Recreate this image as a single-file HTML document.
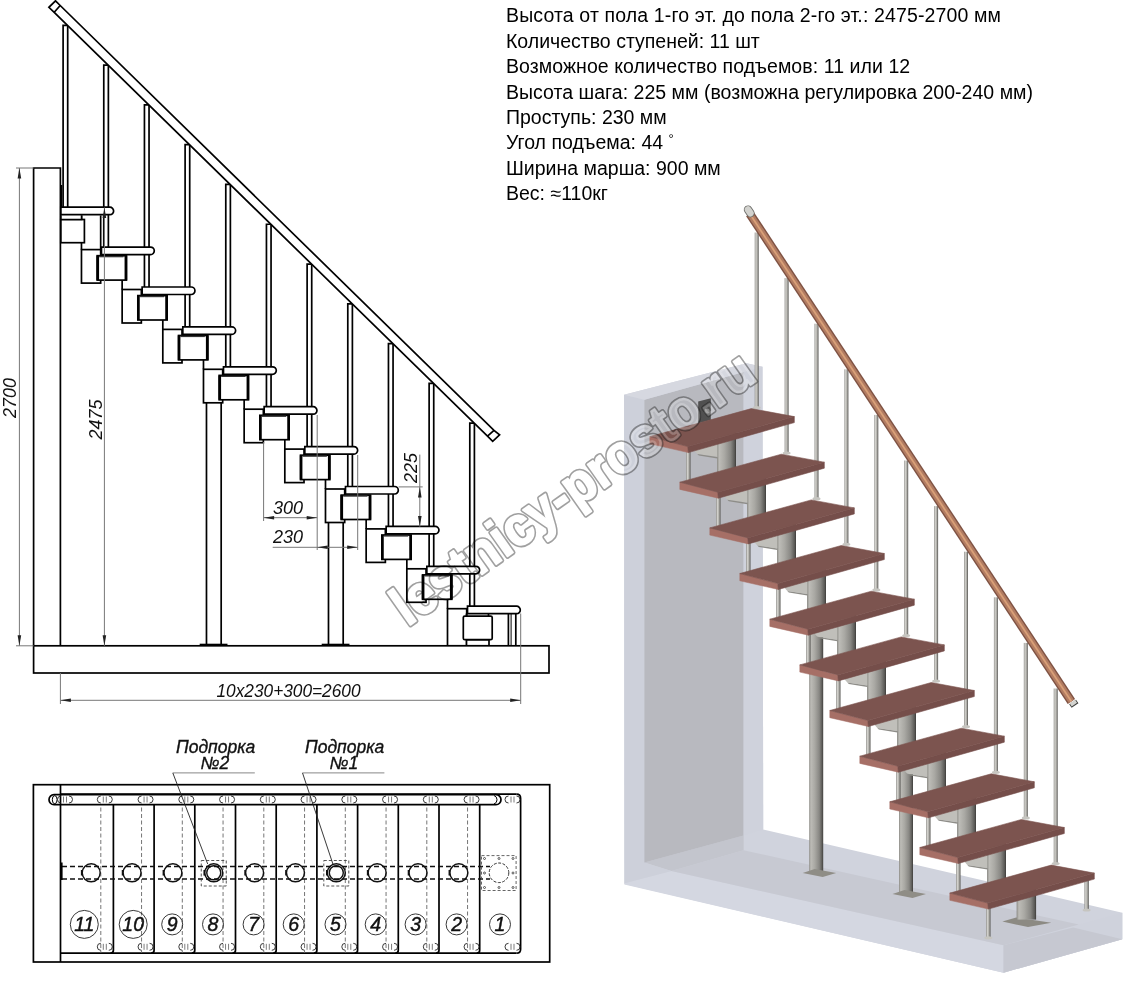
<!DOCTYPE html>
<html><head><meta charset="utf-8"><style>
html,body{margin:0;padding:0;background:#fff;width:1144px;height:983px;overflow:hidden}
svg{display:block}
.s{stroke:#000;stroke-width:1.7;fill:none}
.w{stroke:#000;stroke-width:1.7;fill:#fff}
.t{stroke:#000;stroke-width:2.6}
.d{stroke:#777;stroke-width:1;fill:none}
.dt{font-family:"Liberation Sans",sans-serif;font-style:italic;font-size:18px;fill:#111}
.nt{font-family:"Liberation Sans",sans-serif;font-style:italic;font-size:19.5px;fill:#111;stroke:#111;stroke-width:0.45}
.lt{font-family:"Liberation Sans",sans-serif;font-style:italic;font-size:17.5px;fill:#111;stroke:#111;stroke-width:0.35}
.info{font-family:"Liberation Sans",sans-serif;font-size:19.5px;fill:#000}
.deg{font-size:13px}
.wm{font-family:"Liberation Sans",sans-serif;font-weight:bold;font-size:55px;fill:#000}
</style></head><body>
<svg width="1144" height="983" viewBox="0 0 1144 983">
<rect width="1144" height="983" fill="#fff"/>
<text x="506" y="22.3" class="info" textLength="495" lengthAdjust="spacing">Высота от пола 1-го эт. до пола 2-го эт.: 2475-2700 мм</text>
<text x="506" y="47.7" class="info">Количество ступеней: 11 шт</text>
<text x="506" y="73.1" class="info" textLength="404.2" lengthAdjust="spacing">Возможное количество подъемов: 11 или 12</text>
<text x="506" y="98.5" class="info" textLength="527" lengthAdjust="spacing">Высота шага: 225 мм (возможна регулировка 200-240 мм)</text>
<text x="506" y="123.9" class="info">Проступь: 230 мм</text>
<text x="506" y="149.3" class="info">Угол подъема: 44 <tspan class="deg" dy="-6">°</tspan></text>
<text x="506" y="174.7" class="info">Ширина марша: 900 мм</text>
<text x="506" y="200.1" class="info">Вес: ≈110кг</text>
<g><polygon points="624.1,394.8 746.5,363.3 762.5,366.8 763.2,829.4 1122.3,912.7 1122.3,939.2 1003.5,972.7 624.4,884" fill="#d0d3dd" />
<polygon points="624.4,883.2 671.4,871 1003.5,945.2 1003.5,972.7 624.4,884.5" fill="#d4d7e1" />
<polygon points="1003.5,945.2 1122.3,912.7 1122.3,939.2 1003.5,972.7" fill="#cfd2dc" />
<polygon points="1003.5,945.2 1073.2,927.5 1122.3,939.2 1003.5,972.7" fill="#c6c8d1" />
<polygon points="671.4,871 743.6,850.2 1078.8,924.6 1003.5,945.2" fill="#c7c9d2" />
<polygon points="644.4,862.4 743.6,835.5 743.6,850.2 671.4,871" fill="#c3c5cd" />
<polygon points="624.1,394.8 644.4,399.7 644.4,862.4 671.4,871 624.4,883.2" fill="#cdd0da" />
<polygon points="644.4,399.7 743.6,372 743.6,835.5 644.4,862.4" fill="#b8b9bf" />
<polygon points="743.6,372 762.5,366.8 763.2,829.4 743.6,835.5" fill="#cfd2dc" />
<polygon points="624.1,394.8 746.5,363.3 762.5,366.8 644.4,399.7" fill="#d6d8e0" />
<polygon points="698.2,401.5 710.8,398.3 710.8,420 698.2,423.4" fill="#505050" />
<circle cx="707" cy="411" r="2.6" fill="#8a8a8a"/>
<defs>
<linearGradient id="col" x1="0" x2="1" y1="0" y2="0">
<stop offset="0" stop-color="#8c8b86"/><stop offset="0.12" stop-color="#bdbcb7"/><stop offset="0.4" stop-color="#a9a8a3"/><stop offset="0.72" stop-color="#888783"/><stop offset="0.92" stop-color="#5b5a57"/><stop offset="1" stop-color="#3c3b39"/></linearGradient>
<linearGradient id="bal" x1="0" x2="1" y1="0" y2="0">
<stop offset="0" stop-color="#8e8d89"/><stop offset="0.3" stop-color="#d2d1cc"/><stop offset="0.65" stop-color="#adaca7"/><stop offset="1" stop-color="#52514e"/></linearGradient>
<linearGradient id="rail" x1="0" x2="1" y1="0" y2="0">
<stop offset="0" stop-color="#8f5e48"/><stop offset="0.45" stop-color="#d39a74"/><stop offset="1" stop-color="#9a6650"/></linearGradient>
</defs>
<rect x="809.2" y="630" width="14" height="242" fill="url(#col)"/><polygon points="802.7,873 814.7,869 836.2,873 822.7,877" fill="#8f8d86" />
<rect x="899" y="765" width="14" height="128" fill="url(#col)"/><polygon points="892.5,894 904.5,890 926,894 912.5,898" fill="#8f8d86" />
<rect x="754.7" y="232.5" width="4" height="175" fill="url(#bal)"/>
<ellipse cx="756.7" cy="407.5" rx="4" ry="1.6" fill="#c6c5c0"/>
<rect x="784.6" y="278.1" width="4" height="175" fill="url(#bal)"/>
<ellipse cx="786.6" cy="453.1" rx="4" ry="1.6" fill="#c6c5c0"/>
<rect x="814.5" y="323.7" width="4" height="175" fill="url(#bal)"/>
<ellipse cx="816.5" cy="498.7" rx="4" ry="1.6" fill="#c6c5c0"/>
<rect x="844.4" y="369.3" width="4" height="175" fill="url(#bal)"/>
<ellipse cx="846.4" cy="544.3" rx="4" ry="1.6" fill="#c6c5c0"/>
<rect x="874.3" y="414.9" width="4" height="175" fill="url(#bal)"/>
<ellipse cx="876.3" cy="589.9" rx="4" ry="1.6" fill="#c6c5c0"/>
<rect x="904.2" y="460.5" width="4" height="175" fill="url(#bal)"/>
<ellipse cx="906.2" cy="635.5" rx="4" ry="1.6" fill="#c6c5c0"/>
<rect x="934.1" y="506.1" width="4" height="175" fill="url(#bal)"/>
<ellipse cx="936.1" cy="681.1" rx="4" ry="1.6" fill="#c6c5c0"/>
<rect x="964" y="551.7" width="4" height="175" fill="url(#bal)"/>
<ellipse cx="966" cy="726.7" rx="4" ry="1.6" fill="#c6c5c0"/>
<rect x="993.9" y="597.3" width="4" height="175" fill="url(#bal)"/>
<ellipse cx="995.9" cy="772.3" rx="4" ry="1.6" fill="#c6c5c0"/>
<rect x="1023.8" y="642.9" width="4" height="175" fill="url(#bal)"/>
<ellipse cx="1025.8" cy="817.9" rx="4" ry="1.6" fill="#c6c5c0"/>
<rect x="1053.7" y="688.5" width="4" height="175" fill="url(#bal)"/>
<ellipse cx="1055.7" cy="863.5" rx="4" ry="1.6" fill="#c6c5c0"/>
<rect x="717" y="428.6" width="19" height="49.6" fill="url(#col)"/>
<polygon points="693.8,450.1 717.3,444.1 717.3,457.1 697.3,454.1" fill="#c0bfba" />
<polygon points="697.3,454.1 717.3,457.1 717.3,458.6 698.8,455.6" fill="#8e8d88" />
<rect x="686.1" y="448.6" width="4.4" height="35.6" fill="url(#bal)"/>
<ellipse cx="688.3" cy="483.8" rx="4" ry="1.6" fill="#c6c5c0"/>
<rect x="747" y="474.2" width="19" height="49.6" fill="url(#col)"/>
<polygon points="723.8,495.8 747.3,489.8 747.3,502.8 727.3,499.8" fill="#c0bfba" />
<polygon points="727.3,499.8 747.3,502.8 747.3,504.2 728.8,501.2" fill="#8e8d88" />
<rect x="716.1" y="494.2" width="4.4" height="35.6" fill="url(#bal)"/>
<ellipse cx="718.3" cy="529.4" rx="4" ry="1.6" fill="#c6c5c0"/>
<rect x="777" y="519.9" width="19" height="49.6" fill="url(#col)"/>
<polygon points="753.8,541.4 777.3,535.4 777.3,548.4 757.3,545.4" fill="#c0bfba" />
<polygon points="757.3,545.4 777.3,548.4 777.3,549.9 758.8,546.9" fill="#8e8d88" />
<rect x="746.1" y="539.9" width="4.4" height="35.6" fill="url(#bal)"/>
<ellipse cx="748.3" cy="575" rx="4" ry="1.6" fill="#c6c5c0"/>
<rect x="807" y="565.5" width="19" height="49.6" fill="url(#col)"/>
<polygon points="783.8,587 807.3,581 807.3,594 787.3,591" fill="#c0bfba" />
<polygon points="787.3,591 807.3,594 807.3,595.5 788.8,592.5" fill="#8e8d88" />
<rect x="776.1" y="585.5" width="4.4" height="35.6" fill="url(#bal)"/>
<ellipse cx="778.3" cy="620.7" rx="4" ry="1.6" fill="#c6c5c0"/>
<rect x="837" y="611.2" width="19" height="49.6" fill="url(#col)"/>
<polygon points="813.8,632.7 837.3,626.7 837.3,639.7 817.3,636.7" fill="#c0bfba" />
<polygon points="817.3,636.7 837.3,639.7 837.3,641.2 818.8,638.2" fill="#8e8d88" />
<rect x="806.1" y="631.2" width="4.4" height="35.6" fill="url(#bal)"/>
<ellipse cx="808.3" cy="666.4" rx="4" ry="1.6" fill="#c6c5c0"/>
<rect x="867" y="656.9" width="19" height="49.6" fill="url(#col)"/>
<polygon points="843.8,678.4 867.3,672.4 867.3,685.4 847.3,682.4" fill="#c0bfba" />
<polygon points="847.3,682.4 867.3,685.4 867.3,686.9 848.8,683.9" fill="#8e8d88" />
<rect x="836.1" y="676.9" width="4.4" height="35.6" fill="url(#bal)"/>
<ellipse cx="838.3" cy="712" rx="4" ry="1.6" fill="#c6c5c0"/>
<rect x="897" y="702.5" width="19" height="49.6" fill="url(#col)"/>
<polygon points="873.8,724 897.3,718 897.3,731 877.3,728" fill="#c0bfba" />
<polygon points="877.3,728 897.3,731 897.3,732.5 878.8,729.5" fill="#8e8d88" />
<rect x="866.1" y="722.5" width="4.4" height="35.6" fill="url(#bal)"/>
<ellipse cx="868.3" cy="757.6" rx="4" ry="1.6" fill="#c6c5c0"/>
<rect x="927" y="748.2" width="19" height="49.6" fill="url(#col)"/>
<polygon points="903.8,769.7 927.3,763.7 927.3,776.7 907.3,773.7" fill="#c0bfba" />
<polygon points="907.3,773.7 927.3,776.7 927.3,778.2 908.8,775.2" fill="#8e8d88" />
<rect x="896.1" y="768.2" width="4.4" height="35.6" fill="url(#bal)"/>
<ellipse cx="898.3" cy="803.3" rx="4" ry="1.6" fill="#c6c5c0"/>
<rect x="957" y="793.8" width="19" height="49.6" fill="url(#col)"/>
<polygon points="933.8,815.3 957.3,809.3 957.3,822.3 937.3,819.3" fill="#c0bfba" />
<polygon points="937.3,819.3 957.3,822.3 957.3,823.8 938.8,820.8" fill="#8e8d88" />
<rect x="926.1" y="813.8" width="4.4" height="35.6" fill="url(#bal)"/>
<ellipse cx="928.3" cy="848.9" rx="4" ry="1.6" fill="#c6c5c0"/>
<rect x="987" y="839.5" width="19" height="49.6" fill="url(#col)"/>
<polygon points="963.8,861 987.3,855 987.3,868 967.3,865" fill="#c0bfba" />
<polygon points="967.3,865 987.3,868 987.3,869.5 968.8,866.5" fill="#8e8d88" />
<rect x="956.1" y="859.5" width="4.4" height="35.6" fill="url(#bal)"/>
<ellipse cx="958.3" cy="894.6" rx="4" ry="1.6" fill="#c6c5c0"/>
<rect x="986.1" y="905.1" width="4.4" height="32.7" fill="url(#bal)"/>
<ellipse cx="988.3" cy="937.8" rx="4" ry="1.6" fill="#c6c5c0"/>
<rect x="1084.4" y="877.1" width="4.4" height="32.9" fill="url(#bal)"/>
<ellipse cx="1086.6" cy="910" rx="4" ry="1.6" fill="#c6c5c0"/>
<polygon points="1002.4,921.6 1016.2,917.4 1051.4,922.7 1028,927" fill="#8c8a83" />
<rect x="1016.6" y="885.1" width="19.5" height="34.5" fill="url(#col)"/>
<polygon points="649.8,436.6 687.8,446.6 688.3,452.6 649.8,443.8" fill="#a66f66" stroke="#a66f66" stroke-width="0.5"/>
<polygon points="687.8,446.6 794.3,416.6 794.3,422.6 688.3,452.6" fill="#754e4a" stroke="#754e4a" stroke-width="0.6"/>
<polygon points="649.8,436.6 751.3,408.6 794.3,416.6 687.8,446.6" fill="#7c544f" stroke="#7c544f" stroke-width="0.6"/>
<polygon points="679.8,482.2 717.8,492.2 718.3,498.2 679.8,489.4" fill="#a66f66" stroke="#a66f66" stroke-width="0.5"/>
<polygon points="717.8,492.2 824.3,462.2 824.3,468.2 718.3,498.2" fill="#754e4a" stroke="#754e4a" stroke-width="0.6"/>
<polygon points="679.8,482.2 781.3,454.2 824.3,462.2 717.8,492.2" fill="#7c544f" stroke="#7c544f" stroke-width="0.6"/>
<polygon points="709.8,527.9 747.8,537.9 748.3,543.9 709.8,535.1" fill="#a66f66" stroke="#a66f66" stroke-width="0.5"/>
<polygon points="747.8,537.9 854.3,507.9 854.3,513.9 748.3,543.9" fill="#754e4a" stroke="#754e4a" stroke-width="0.6"/>
<polygon points="709.8,527.9 811.3,499.9 854.3,507.9 747.8,537.9" fill="#7c544f" stroke="#7c544f" stroke-width="0.6"/>
<polygon points="739.8,573.5 777.8,583.5 778.3,589.5 739.8,580.8" fill="#a66f66" stroke="#a66f66" stroke-width="0.5"/>
<polygon points="777.8,583.5 884.3,553.5 884.3,559.5 778.3,589.5" fill="#754e4a" stroke="#754e4a" stroke-width="0.6"/>
<polygon points="739.8,573.5 841.3,545.5 884.3,553.5 777.8,583.5" fill="#7c544f" stroke="#7c544f" stroke-width="0.6"/>
<polygon points="769.8,619.2 807.8,629.2 808.3,635.2 769.8,626.4" fill="#a66f66" stroke="#a66f66" stroke-width="0.5"/>
<polygon points="807.8,629.2 914.3,599.2 914.3,605.2 808.3,635.2" fill="#754e4a" stroke="#754e4a" stroke-width="0.6"/>
<polygon points="769.8,619.2 871.3,591.2 914.3,599.2 807.8,629.2" fill="#7c544f" stroke="#7c544f" stroke-width="0.6"/>
<polygon points="799.8,664.9 837.8,674.9 838.3,680.9 799.8,672.1" fill="#a66f66" stroke="#a66f66" stroke-width="0.5"/>
<polygon points="837.8,674.9 944.3,644.9 944.3,650.9 838.3,680.9" fill="#754e4a" stroke="#754e4a" stroke-width="0.6"/>
<polygon points="799.8,664.9 901.3,636.9 944.3,644.9 837.8,674.9" fill="#7c544f" stroke="#7c544f" stroke-width="0.6"/>
<polygon points="829.8,710.5 867.8,720.5 868.3,726.5 829.8,717.7" fill="#a66f66" stroke="#a66f66" stroke-width="0.5"/>
<polygon points="867.8,720.5 974.3,690.5 974.3,696.5 868.3,726.5" fill="#754e4a" stroke="#754e4a" stroke-width="0.6"/>
<polygon points="829.8,710.5 931.3,682.5 974.3,690.5 867.8,720.5" fill="#7c544f" stroke="#7c544f" stroke-width="0.6"/>
<polygon points="859.8,756.2 897.8,766.2 898.3,772.2 859.8,763.4" fill="#a66f66" stroke="#a66f66" stroke-width="0.5"/>
<polygon points="897.8,766.2 1004.3,736.2 1004.3,742.2 898.3,772.2" fill="#754e4a" stroke="#754e4a" stroke-width="0.6"/>
<polygon points="859.8,756.2 961.3,728.2 1004.3,736.2 897.8,766.2" fill="#7c544f" stroke="#7c544f" stroke-width="0.6"/>
<polygon points="889.8,801.8 927.8,811.8 928.3,817.8 889.8,809" fill="#a66f66" stroke="#a66f66" stroke-width="0.5"/>
<polygon points="927.8,811.8 1034.3,781.8 1034.3,787.8 928.3,817.8" fill="#754e4a" stroke="#754e4a" stroke-width="0.6"/>
<polygon points="889.8,801.8 991.3,773.8 1034.3,781.8 927.8,811.8" fill="#7c544f" stroke="#7c544f" stroke-width="0.6"/>
<polygon points="919.8,847.5 957.8,857.5 958.3,863.5 919.8,854.7" fill="#a66f66" stroke="#a66f66" stroke-width="0.5"/>
<polygon points="957.8,857.5 1064.3,827.5 1064.3,833.5 958.3,863.5" fill="#754e4a" stroke="#754e4a" stroke-width="0.6"/>
<polygon points="919.8,847.5 1021.3,819.5 1064.3,827.5 957.8,857.5" fill="#7c544f" stroke="#7c544f" stroke-width="0.6"/>
<polygon points="949.8,893.1 987.8,903.1 988.3,909.1 949.8,900.3" fill="#a66f66" stroke="#a66f66" stroke-width="0.5"/>
<polygon points="987.8,903.1 1094.3,873.1 1094.3,879.1 988.3,909.1" fill="#754e4a" stroke="#754e4a" stroke-width="0.6"/>
<polygon points="949.8,893.1 1051.3,865.1 1094.3,873.1 987.8,903.1" fill="#7c544f" stroke="#7c544f" stroke-width="0.6"/>
<path d="M749.8 213.8L1071.4 701.5" stroke="#7e5243" stroke-width="8.8" stroke-linecap="butt"/>
<path d="M749.8 213.8L1071.4 701.5" stroke="#b27c62" stroke-width="6"/>
<path d="M749.8 213.8L1071.4 701.5" stroke="#d9a078" stroke-width="1.8"/>
<path d="M748 209.6L750.4 213.2" stroke="#6e6e6a" stroke-width="8.4" stroke-linecap="round"/>
<path d="M748 209.6L750.4 213.2" stroke="#d2d2ce" stroke-width="6.6" stroke-linecap="round"/>
<path d="M1072.6 701.9L1075 705.5" stroke="#3e3e3c" stroke-width="8.2" stroke-linecap="butt"/>
<path d="M1072.4 701.6L1074.4 704.6" stroke="#d4d4d0" stroke-width="6.4" stroke-linecap="butt"/></g>
<g><path d="M63.1 207.2V25.31H67.7V207.2" class="s"/>
<path d="M103.77 247.1V65.09H108.37V247.1" class="s"/>
<path d="M144.44 287V104.88H149.04V287" class="s"/>
<path d="M185.11 326.9V144.67H189.71V326.9" class="s"/>
<path d="M225.78 366.8V184.46H230.38V366.8" class="s"/>
<path d="M266.45 406.7V224.24H271.05V406.7" class="s"/>
<path d="M307.12 446.6V264.03H311.72V446.6" class="s"/>
<path d="M347.79 486.5V303.82H352.39V486.5" class="s"/>
<path d="M388.46 526.4V343.61H393.06V526.4" class="s"/>
<path d="M429.13 566.3V383.39H433.73V566.3" class="s"/>
<path d="M469.8 606.2V423.18H474.4V606.2" class="s"/>
<rect x="81.47" y="249.6" width="19.2" height="33.5" class="w"/>
<path d="M81.47 215.4V249.6" class="s"/>
<path d="M100.67 215.4V249.6" class="s"/>
<rect x="122.14" y="289.5" width="19.2" height="33.5" class="w"/>
<path d="M122.14 279.7V289.5" class="s"/>
<rect x="162.81" y="329.4" width="19.2" height="33.5" class="w"/>
<path d="M162.81 319.6V329.4" class="s"/>
<rect x="203.48" y="369.3" width="19.2" height="33.5" class="w"/>
<path d="M203.48 359.5V369.3" class="s"/>
<rect x="244.15" y="409.2" width="19.2" height="33.5" class="w"/>
<path d="M244.15 399.4V409.2" class="s"/>
<rect x="284.82" y="449.1" width="19.2" height="33.5" class="w"/>
<path d="M284.82 439.3V449.1" class="s"/>
<rect x="325.49" y="489" width="19.2" height="33.5" class="w"/>
<path d="M325.49 479.2V489" class="s"/>
<rect x="366.16" y="528.9" width="19.2" height="33.5" class="w"/>
<path d="M366.16 519.1V528.9" class="s"/>
<rect x="406.83" y="568.8" width="19.2" height="33.5" class="w"/>
<path d="M406.83 559V568.8" class="s"/>
<rect x="447.5" y="608.7" width="19.2" height="37.1" class="w"/>
<path d="M447.5 598.9V608.7" class="s"/>
<path d="M206.48 402.8V645.8M221.18 402.8V645.8" class="s"/>
<path d="M199.68 644.6H227.48" stroke="#000" stroke-width="1.8"/>
<path d="M328.49 522.5V645.8M343.19 522.5V645.8" class="s"/>
<path d="M321.69 644.6H349.49" stroke="#000" stroke-width="1.8"/>
<rect x="60.8" y="219.5" width="23.6" height="23.2" class="w"/>
<path d="M60.8 215.2V219.5H81.6V215.2" class="w"/>
<rect x="97.17" y="255.7" width="29.3" height="24.4" class="w"/>
<path d="M97.77 255.7V280.1M125.87 255.7V280.1" class="t"/>
<path d="M99.17 256.6H123.47" stroke="#333" stroke-width="1.4"/>
<rect x="137.84" y="295.6" width="29.3" height="24.4" class="w"/>
<path d="M138.44 295.6V320M166.54 295.6V320" class="t"/>
<path d="M139.84 296.5H164.14" stroke="#333" stroke-width="1.4"/>
<rect x="178.51" y="335.5" width="29.3" height="24.4" class="w"/>
<path d="M179.11 335.5V359.9M207.21 335.5V359.9" class="t"/>
<path d="M180.51 336.4H204.81" stroke="#333" stroke-width="1.4"/>
<rect x="219.18" y="375.4" width="29.3" height="24.4" class="w"/>
<path d="M219.78 375.4V399.8M247.88 375.4V399.8" class="t"/>
<path d="M221.18 376.3H245.48" stroke="#333" stroke-width="1.4"/>
<rect x="259.85" y="415.3" width="29.3" height="24.4" class="w"/>
<path d="M260.45 415.3V439.7M288.55 415.3V439.7" class="t"/>
<path d="M261.85 416.2H286.15" stroke="#333" stroke-width="1.4"/>
<rect x="300.52" y="455.2" width="29.3" height="24.4" class="w"/>
<path d="M301.12 455.2V479.6M329.22 455.2V479.6" class="t"/>
<path d="M302.52 456.1H326.82" stroke="#333" stroke-width="1.4"/>
<rect x="341.19" y="495.1" width="29.3" height="24.4" class="w"/>
<path d="M341.79 495.1V519.5M369.89 495.1V519.5" class="t"/>
<path d="M343.19 496H367.49" stroke="#333" stroke-width="1.4"/>
<rect x="381.86" y="535" width="29.3" height="24.4" class="w"/>
<path d="M382.46 535V559.4M410.56 535V559.4" class="t"/>
<path d="M383.86 535.9H408.16" stroke="#333" stroke-width="1.4"/>
<rect x="422.53" y="574.9" width="29.3" height="24.4" class="w"/>
<path d="M423.13 574.9V599.3M451.23 574.9V599.3" class="t"/>
<path d="M424.53 575.8H448.83" stroke="#333" stroke-width="1.4"/>
<rect x="466.5" y="639.7" width="22.5" height="6.1" class="w"/>
<rect x="463.3" y="616.1" width="28.9" height="23.6" rx="1.5" class="w"/>
<path d="M466.5 613.5V616.1M488.5 613.5V616.1" class="s"/>
<path d="M508.4 613.2V645.8M515.8 613.2V645.8" class="s"/>
<path d="M511.1 613.2V645.8" stroke="#000" stroke-width="1"/>
<path d="M60.8 207.2H109.9A3.7 3.7 0 0 1 113.6 210.9A3.7 3.7 0 0 1 109.9 214.7H60.8Z" class="w"/>
<path d="M101.47 247.1H150.57A3.7 3.7 0 0 1 154.27 250.8A3.7 3.7 0 0 1 150.57 254.6H101.47Z" class="w"/>
<path d="M142.14 287H191.24A3.7 3.7 0 0 1 194.94 290.7A3.7 3.7 0 0 1 191.24 294.5H142.14Z" class="w"/>
<path d="M182.81 326.9H231.91A3.7 3.7 0 0 1 235.61 330.6A3.7 3.7 0 0 1 231.91 334.4H182.81Z" class="w"/>
<path d="M223.48 366.8H272.58A3.7 3.7 0 0 1 276.28 370.5A3.7 3.7 0 0 1 272.58 374.3H223.48Z" class="w"/>
<path d="M264.15 406.7H313.25A3.7 3.7 0 0 1 316.95 410.4A3.7 3.7 0 0 1 313.25 414.2H264.15Z" class="w"/>
<path d="M304.82 446.6H353.92A3.7 3.7 0 0 1 357.62 450.3A3.7 3.7 0 0 1 353.92 454.1H304.82Z" class="w"/>
<path d="M345.49 486.5H394.59A3.7 3.7 0 0 1 398.29 490.2A3.7 3.7 0 0 1 394.59 494H345.49Z" class="w"/>
<path d="M386.16 526.4H435.26A3.7 3.7 0 0 1 438.96 530.1A3.7 3.7 0 0 1 435.26 533.9H386.16Z" class="w"/>
<path d="M426.83 566.3H475.93A3.7 3.7 0 0 1 479.63 570A3.7 3.7 0 0 1 475.93 573.8H426.83Z" class="w"/>
<path d="M467.5 606.2H516.6A3.7 3.7 0 0 1 520.3 609.9A3.7 3.7 0 0 1 516.6 613.7H467.5Z" class="w"/>
<polygon points="54.2,12.3 487.5,436.2 492.7,441.4 499.6,434.9 494,430.4 60.2,5.5 55.5,0.8 48.9,7.3" class="w"/>
<path d="M54.2 12.3L60.2 5.5M487.5 436.2L494 430.4" class="s"/>
<path d="M33.6 645.8V168H60.4V645.8" class="s" fill="none"/>
<path d="M61.6 185V207.2" stroke="#000" stroke-width="1.2"/>
<rect x="33.6" y="645.8" width="515.4" height="27.2" class="w"/>
<path d="M19.4 168V645.8M16 168H33.6M16 645.8H33.6" class="d"/>
<path d="M19.4 168L17.6 178.5L21.2 178.5Z" fill="#222"/>
<path d="M19.4 645.8L17.6 635.3L21.2 635.3Z" fill="#222"/>
<text transform="translate(16.3 418) rotate(-90)" class="dt">2700</text>
<path d="M104.4 207.5V645.8" class="d"/>
<path d="M104.4 207.5L102.6 218L106.2 218Z" fill="#222"/>
<path d="M104.4 645.8L102.6 635.3L106.2 635.3Z" fill="#222"/>
<text transform="translate(101.8 439.5) rotate(-90)" class="dt">2475</text>
<path d="M60.4 673V704M520.7 613.5V704M60.4 700.3H520.7" class="d"/>
<path d="M60.4 700.3L70.9 698.5L70.9 702.1Z" fill="#222"/>
<path d="M520.7 700.3L510.2 698.5L510.2 702.1Z" fill="#222"/>
<text x="216.5" y="697" class="dt" textLength="144" lengthAdjust="spacingAndGlyphs">10x230+300=2600</text>
<path d="M263.6 442V521M317.2 415V550M263.6 517.7H317.2" class="d"/>
<path d="M263.6 517.7L274.1 515.9L274.1 519.5Z" fill="#222"/>
<path d="M317.2 517.7L306.7 515.9L306.7 519.5Z" fill="#222"/>
<text x="273" y="514" class="dt">300</text>
<path d="M357.7 455V550M272.7 547.3H357.7" class="d"/>
<path d="M317.2 547.3L327.7 545.5L327.7 549.1Z" fill="#222"/>
<path d="M357.7 547.3L347.2 545.5L347.2 549.1Z" fill="#222"/>
<text x="273" y="543" class="dt">230</text>
<path d="M398.7 486.9H422.7M419.8 454.6V526.7" class="d"/>
<path d="M419.8 487.1L418 497.6L421.6 497.6Z" fill="#222"/>
<path d="M419.8 526.5L418 516L421.6 516Z" fill="#222"/>
<text transform="translate(417.3 483) rotate(-90)" class="dt">225</text></g>
<g><rect x="33.4" y="784.7" width="516.3" height="177.3" class="w"/>
<path d="M60.5 784.7V962" class="s"/>
<path d="M60.5 953.2H516.6" class="s"/>
<path d="M60.5 794.2H516.6" class="s" stroke-width="2.2"/>
<path d="M113.4 804.7V950.2Q113.4 953.2 110.4 953.2" class="s" fill="none"/>
<path d="M154.1 804.7V950.2Q154.1 953.2 151.1 953.2" class="s" fill="none"/>
<path d="M194.8 804.7V950.2Q194.8 953.2 191.8 953.2" class="s" fill="none"/>
<path d="M235.5 804.7V950.2Q235.5 953.2 232.5 953.2" class="s" fill="none"/>
<path d="M276.2 804.7V950.2Q276.2 953.2 273.2 953.2" class="s" fill="none"/>
<path d="M316.9 804.7V950.2Q316.9 953.2 313.9 953.2" class="s" fill="none"/>
<path d="M357.6 804.7V950.2Q357.6 953.2 354.6 953.2" class="s" fill="none"/>
<path d="M398.3 804.7V950.2Q398.3 953.2 395.3 953.2" class="s" fill="none"/>
<path d="M439 804.7V950.2Q439 953.2 436 953.2" class="s" fill="none"/>
<path d="M479.7 804.7V950.2Q479.7 953.2 476.7 953.2" class="s" fill="none"/>
<path d="M516.6 794.2Q520.6 794.2 520.6 798.2V949.2Q520.6 953.2 516.6 953.2" class="s" fill="none"/>
<path d="M100.8 794.5V953" stroke="#666" stroke-width="0.9" stroke-dasharray="4 2.5"/>
<path d="M141.55 794.5V953" stroke="#666" stroke-width="0.9" stroke-dasharray="4 2.5"/>
<path d="M182.3 794.5V953" stroke="#666" stroke-width="0.9" stroke-dasharray="4 2.5"/>
<path d="M223.05 794.5V953" stroke="#666" stroke-width="0.9" stroke-dasharray="4 2.5"/>
<path d="M263.8 794.5V953" stroke="#666" stroke-width="0.9" stroke-dasharray="4 2.5"/>
<path d="M304.55 794.5V953" stroke="#666" stroke-width="0.9" stroke-dasharray="4 2.5"/>
<path d="M345.3 794.5V953" stroke="#666" stroke-width="0.9" stroke-dasharray="4 2.5"/>
<path d="M386.05 794.5V953" stroke="#666" stroke-width="0.9" stroke-dasharray="4 2.5"/>
<path d="M426.8 794.5V953" stroke="#666" stroke-width="0.9" stroke-dasharray="4 2.5"/>
<path d="M467.55 794.5V953" stroke="#666" stroke-width="0.9" stroke-dasharray="4 2.5"/>
<path d="M54 794.7H496A5 5 0 0 1 496 804.7H54A5 5 0 0 1 54 794.7Z" class="w"/>
<path d="M60.5 794.7V804.7" class="s"/>
<ellipse cx="54.7" cy="799.7" rx="2.4" ry="4" fill="none" stroke="#000" stroke-width="1"/>
<path d="M494 795.5A4.5 4.5 0 0 1 494 804" fill="none" stroke="#000" stroke-width="1"/>
<path d="M100.8 796A3.5 3.5 0 0 0 100.8 803M108.8 796A3.5 3.5 0 0 1 108.8 803" fill="none" stroke="#222" stroke-width="0.9"/><path d="M103.3 796.5V802.5M106.3 796.5V802.5" stroke="#444" stroke-width="0.7"/>
<path d="M100.8 943.3A3.5 3.5 0 0 0 100.8 950.3M108.8 943.3A3.5 3.5 0 0 1 108.8 950.3" fill="none" stroke="#222" stroke-width="0.9"/><path d="M103.3 943.8V949.8M106.3 943.8V949.8" stroke="#444" stroke-width="0.7"/>
<path d="M141.55 796A3.5 3.5 0 0 0 141.55 803M149.55 796A3.5 3.5 0 0 1 149.55 803" fill="none" stroke="#222" stroke-width="0.9"/><path d="M144.05 796.5V802.5M147.05 796.5V802.5" stroke="#444" stroke-width="0.7"/>
<path d="M141.55 943.3A3.5 3.5 0 0 0 141.55 950.3M149.55 943.3A3.5 3.5 0 0 1 149.55 950.3" fill="none" stroke="#222" stroke-width="0.9"/><path d="M144.05 943.8V949.8M147.05 943.8V949.8" stroke="#444" stroke-width="0.7"/>
<path d="M182.3 796A3.5 3.5 0 0 0 182.3 803M190.3 796A3.5 3.5 0 0 1 190.3 803" fill="none" stroke="#222" stroke-width="0.9"/><path d="M184.8 796.5V802.5M187.8 796.5V802.5" stroke="#444" stroke-width="0.7"/>
<path d="M182.3 943.3A3.5 3.5 0 0 0 182.3 950.3M190.3 943.3A3.5 3.5 0 0 1 190.3 950.3" fill="none" stroke="#222" stroke-width="0.9"/><path d="M184.8 943.8V949.8M187.8 943.8V949.8" stroke="#444" stroke-width="0.7"/>
<path d="M223.05 796A3.5 3.5 0 0 0 223.05 803M231.05 796A3.5 3.5 0 0 1 231.05 803" fill="none" stroke="#222" stroke-width="0.9"/><path d="M225.55 796.5V802.5M228.55 796.5V802.5" stroke="#444" stroke-width="0.7"/>
<path d="M223.05 943.3A3.5 3.5 0 0 0 223.05 950.3M231.05 943.3A3.5 3.5 0 0 1 231.05 950.3" fill="none" stroke="#222" stroke-width="0.9"/><path d="M225.55 943.8V949.8M228.55 943.8V949.8" stroke="#444" stroke-width="0.7"/>
<path d="M263.8 796A3.5 3.5 0 0 0 263.8 803M271.8 796A3.5 3.5 0 0 1 271.8 803" fill="none" stroke="#222" stroke-width="0.9"/><path d="M266.3 796.5V802.5M269.3 796.5V802.5" stroke="#444" stroke-width="0.7"/>
<path d="M263.8 943.3A3.5 3.5 0 0 0 263.8 950.3M271.8 943.3A3.5 3.5 0 0 1 271.8 950.3" fill="none" stroke="#222" stroke-width="0.9"/><path d="M266.3 943.8V949.8M269.3 943.8V949.8" stroke="#444" stroke-width="0.7"/>
<path d="M304.55 796A3.5 3.5 0 0 0 304.55 803M312.55 796A3.5 3.5 0 0 1 312.55 803" fill="none" stroke="#222" stroke-width="0.9"/><path d="M307.05 796.5V802.5M310.05 796.5V802.5" stroke="#444" stroke-width="0.7"/>
<path d="M304.55 943.3A3.5 3.5 0 0 0 304.55 950.3M312.55 943.3A3.5 3.5 0 0 1 312.55 950.3" fill="none" stroke="#222" stroke-width="0.9"/><path d="M307.05 943.8V949.8M310.05 943.8V949.8" stroke="#444" stroke-width="0.7"/>
<path d="M345.3 796A3.5 3.5 0 0 0 345.3 803M353.3 796A3.5 3.5 0 0 1 353.3 803" fill="none" stroke="#222" stroke-width="0.9"/><path d="M347.8 796.5V802.5M350.8 796.5V802.5" stroke="#444" stroke-width="0.7"/>
<path d="M345.3 943.3A3.5 3.5 0 0 0 345.3 950.3M353.3 943.3A3.5 3.5 0 0 1 353.3 950.3" fill="none" stroke="#222" stroke-width="0.9"/><path d="M347.8 943.8V949.8M350.8 943.8V949.8" stroke="#444" stroke-width="0.7"/>
<path d="M386.05 796A3.5 3.5 0 0 0 386.05 803M394.05 796A3.5 3.5 0 0 1 394.05 803" fill="none" stroke="#222" stroke-width="0.9"/><path d="M388.55 796.5V802.5M391.55 796.5V802.5" stroke="#444" stroke-width="0.7"/>
<path d="M386.05 943.3A3.5 3.5 0 0 0 386.05 950.3M394.05 943.3A3.5 3.5 0 0 1 394.05 950.3" fill="none" stroke="#222" stroke-width="0.9"/><path d="M388.55 943.8V949.8M391.55 943.8V949.8" stroke="#444" stroke-width="0.7"/>
<path d="M426.8 796A3.5 3.5 0 0 0 426.8 803M434.8 796A3.5 3.5 0 0 1 434.8 803" fill="none" stroke="#222" stroke-width="0.9"/><path d="M429.3 796.5V802.5M432.3 796.5V802.5" stroke="#444" stroke-width="0.7"/>
<path d="M426.8 943.3A3.5 3.5 0 0 0 426.8 950.3M434.8 943.3A3.5 3.5 0 0 1 434.8 950.3" fill="none" stroke="#222" stroke-width="0.9"/><path d="M429.3 943.8V949.8M432.3 943.8V949.8" stroke="#444" stroke-width="0.7"/>
<path d="M467.55 796A3.5 3.5 0 0 0 467.55 803M475.55 796A3.5 3.5 0 0 1 475.55 803" fill="none" stroke="#222" stroke-width="0.9"/><path d="M470.05 796.5V802.5M473.05 796.5V802.5" stroke="#444" stroke-width="0.7"/>
<path d="M467.55 943.3A3.5 3.5 0 0 0 467.55 950.3M475.55 943.3A3.5 3.5 0 0 1 475.55 950.3" fill="none" stroke="#222" stroke-width="0.9"/><path d="M470.05 943.8V949.8M473.05 943.8V949.8" stroke="#444" stroke-width="0.7"/>
<path d="M61 796A3.5 3.5 0 0 0 61 803M69 796A3.5 3.5 0 0 1 69 803" fill="none" stroke="#222" stroke-width="0.9"/><path d="M63.5 796.5V802.5M66.5 796.5V802.5" stroke="#444" stroke-width="0.7"/>
<path d="M508.5 796A3.5 3.5 0 0 0 508.5 803M516.5 796A3.5 3.5 0 0 1 516.5 803" fill="none" stroke="#222" stroke-width="0.9"/><path d="M511 796.5V802.5M514 796.5V802.5" stroke="#444" stroke-width="0.7"/>
<path d="M508.5 943.3A3.5 3.5 0 0 0 508.5 950.3M516.5 943.3A3.5 3.5 0 0 1 516.5 950.3" fill="none" stroke="#222" stroke-width="0.9"/><path d="M511 943.8V949.8M514 943.8V949.8" stroke="#444" stroke-width="0.7"/>
<path d="M62 866.5H490M62 879.1H490" stroke="#111" stroke-width="1.5" stroke-dasharray="5 3"/>
<path d="M61.3 862.5V880" stroke="#000" stroke-width="2.6"/>
<circle cx="91.2" cy="872.8" r="9" fill="none" stroke="#111" stroke-width="1.5"/>
<path d="M81.7 870V875.5" stroke="#111" stroke-width="1.6"/>
<circle cx="132.05" cy="872.8" r="9" fill="none" stroke="#111" stroke-width="1.5"/>
<path d="M122.55 870V875.5" stroke="#111" stroke-width="1.6"/>
<circle cx="172.9" cy="872.8" r="9" fill="none" stroke="#111" stroke-width="1.5"/>
<path d="M163.4 870V875.5" stroke="#111" stroke-width="1.6"/>
<circle cx="213.75" cy="872.8" r="9" fill="none" stroke="#111" stroke-width="1.5"/>
<path d="M204.25 870V875.5" stroke="#111" stroke-width="1.6"/>
<circle cx="254.6" cy="872.8" r="9" fill="none" stroke="#111" stroke-width="1.5"/>
<path d="M245.1 870V875.5" stroke="#111" stroke-width="1.6"/>
<circle cx="295.45" cy="872.8" r="9" fill="none" stroke="#111" stroke-width="1.5"/>
<path d="M285.95 870V875.5" stroke="#111" stroke-width="1.6"/>
<circle cx="336.3" cy="872.8" r="9" fill="none" stroke="#111" stroke-width="1.5"/>
<path d="M326.8 870V875.5" stroke="#111" stroke-width="1.6"/>
<circle cx="377.15" cy="872.8" r="9" fill="none" stroke="#111" stroke-width="1.5"/>
<path d="M367.65 870V875.5" stroke="#111" stroke-width="1.6"/>
<circle cx="418" cy="872.8" r="9" fill="none" stroke="#111" stroke-width="1.5"/>
<path d="M408.5 870V875.5" stroke="#111" stroke-width="1.6"/>
<circle cx="458.85" cy="872.8" r="9" fill="none" stroke="#111" stroke-width="1.5"/>
<path d="M449.35 870V875.5" stroke="#111" stroke-width="1.6"/>
<rect x="201.25" y="860.5" width="25" height="25.5" fill="none" stroke="#444" stroke-width="0.9" stroke-dasharray="3 2"/>
<circle cx="213.75" cy="872.8" r="7" fill="none" stroke="#111" stroke-width="1.4"/>
<rect x="323.8" y="860.5" width="25" height="25.5" fill="none" stroke="#444" stroke-width="0.9" stroke-dasharray="3 2"/>
<circle cx="336.3" cy="872.8" r="7" fill="none" stroke="#111" stroke-width="1.4"/>
<rect x="481.5" y="855.6" width="34.6" height="34.9" fill="none" stroke="#555" stroke-width="0.9" stroke-dasharray="3 2"/>
<circle cx="499" cy="872.8" r="9.8" fill="none" stroke="#333" stroke-width="1" stroke-dasharray="3 1.5"/>
<circle cx="484.5" cy="858.5" r="1" fill="none" stroke="#333" stroke-width="0.8"/>
<circle cx="499" cy="858.5" r="1" fill="none" stroke="#333" stroke-width="0.8"/>
<circle cx="513" cy="858.5" r="1" fill="none" stroke="#333" stroke-width="0.8"/>
<circle cx="484.5" cy="873" r="1" fill="none" stroke="#333" stroke-width="0.8"/>
<circle cx="513" cy="873" r="1" fill="none" stroke="#333" stroke-width="0.8"/>
<circle cx="484.5" cy="887.5" r="1" fill="none" stroke="#333" stroke-width="0.8"/>
<circle cx="499" cy="887.5" r="1" fill="none" stroke="#333" stroke-width="0.8"/>
<circle cx="513" cy="887.5" r="1" fill="none" stroke="#333" stroke-width="0.8"/>
<circle cx="84.3" cy="924.4" r="14" fill="none" stroke="#222" stroke-width="0.9"/>
<text x="84.3" y="931" class="nt" text-anchor="middle">11</text>
<circle cx="133.2" cy="924.4" r="14" fill="none" stroke="#222" stroke-width="0.9"/>
<text x="133.2" y="931" class="nt" text-anchor="middle">10</text>
<circle cx="172.2" cy="924.4" r="10.5" fill="none" stroke="#222" stroke-width="0.9"/>
<text x="172.2" y="931" class="nt" text-anchor="middle">9</text>
<circle cx="213" cy="924.4" r="10.5" fill="none" stroke="#222" stroke-width="0.9"/>
<text x="213" y="931" class="nt" text-anchor="middle">8</text>
<circle cx="253.6" cy="924.4" r="10.5" fill="none" stroke="#222" stroke-width="0.9"/>
<text x="253.6" y="931" class="nt" text-anchor="middle">7</text>
<circle cx="293.7" cy="924.4" r="10.5" fill="none" stroke="#222" stroke-width="0.9"/>
<text x="293.7" y="931" class="nt" text-anchor="middle">6</text>
<circle cx="335.5" cy="924.4" r="10.5" fill="none" stroke="#222" stroke-width="0.9"/>
<text x="335.5" y="931" class="nt" text-anchor="middle">5</text>
<circle cx="375.7" cy="924.4" r="10.5" fill="none" stroke="#222" stroke-width="0.9"/>
<text x="375.7" y="931" class="nt" text-anchor="middle">4</text>
<circle cx="415.6" cy="924.4" r="10.5" fill="none" stroke="#222" stroke-width="0.9"/>
<text x="415.6" y="931" class="nt" text-anchor="middle">3</text>
<circle cx="456.6" cy="924.4" r="10.5" fill="none" stroke="#222" stroke-width="0.9"/>
<text x="456.6" y="931" class="nt" text-anchor="middle">2</text>
<circle cx="500" cy="924.4" r="10.5" fill="none" stroke="#222" stroke-width="0.9"/>
<text x="500" y="931" class="nt" text-anchor="middle">1</text>
<text x="176" y="753.2" class="lt">Подпорка</text>
<text x="200.5" y="768.5" class="lt">№2</text>
<path d="M172.8 772.9H254.8" stroke="#888" stroke-width="1"/>
<path d="M172.8 772.9L207.7 864" stroke="#222" stroke-width="0.9"/>
<text x="305" y="753.2" class="lt">Подпорка</text>
<text x="329.5" y="768.5" class="lt">№1</text>
<path d="M302.5 772.9H384.4" stroke="#888" stroke-width="1"/>
<path d="M302.5 772.9L332.9 864" stroke="#222" stroke-width="0.9"/></g>
<defs>
<text id="wmt" transform="translate(407.5 627) rotate(-35.2) scale(0.925 1)" class="wm">lestnicy-prosto.ru</text>
<mask id="wmring" maskUnits="userSpaceOnUse" x="0" y="0" width="1144" height="983">
<use href="#wmt" fill="#fff" stroke="#fff" stroke-width="4.9" stroke-linejoin="round"/>
<use href="#wmt" fill="#000" stroke="#000" stroke-width="1.7" stroke-linejoin="round"/>
</mask>
<mask id="wmfill" maskUnits="userSpaceOnUse" x="0" y="0" width="1144" height="983">
<use href="#wmt" fill="#fff" stroke="#fff" stroke-width="3.4" stroke-linejoin="round"/>
</mask>
</defs>
<rect x="620" y="250" width="280" height="450" fill="#fff" fill-opacity="0.22" mask="url(#wmfill)"/>
<rect x="300" y="250" width="600" height="450" fill="#a0a0a0" mask="url(#wmring)" style="mix-blend-mode:multiply"/>
</svg>
</body></html>
